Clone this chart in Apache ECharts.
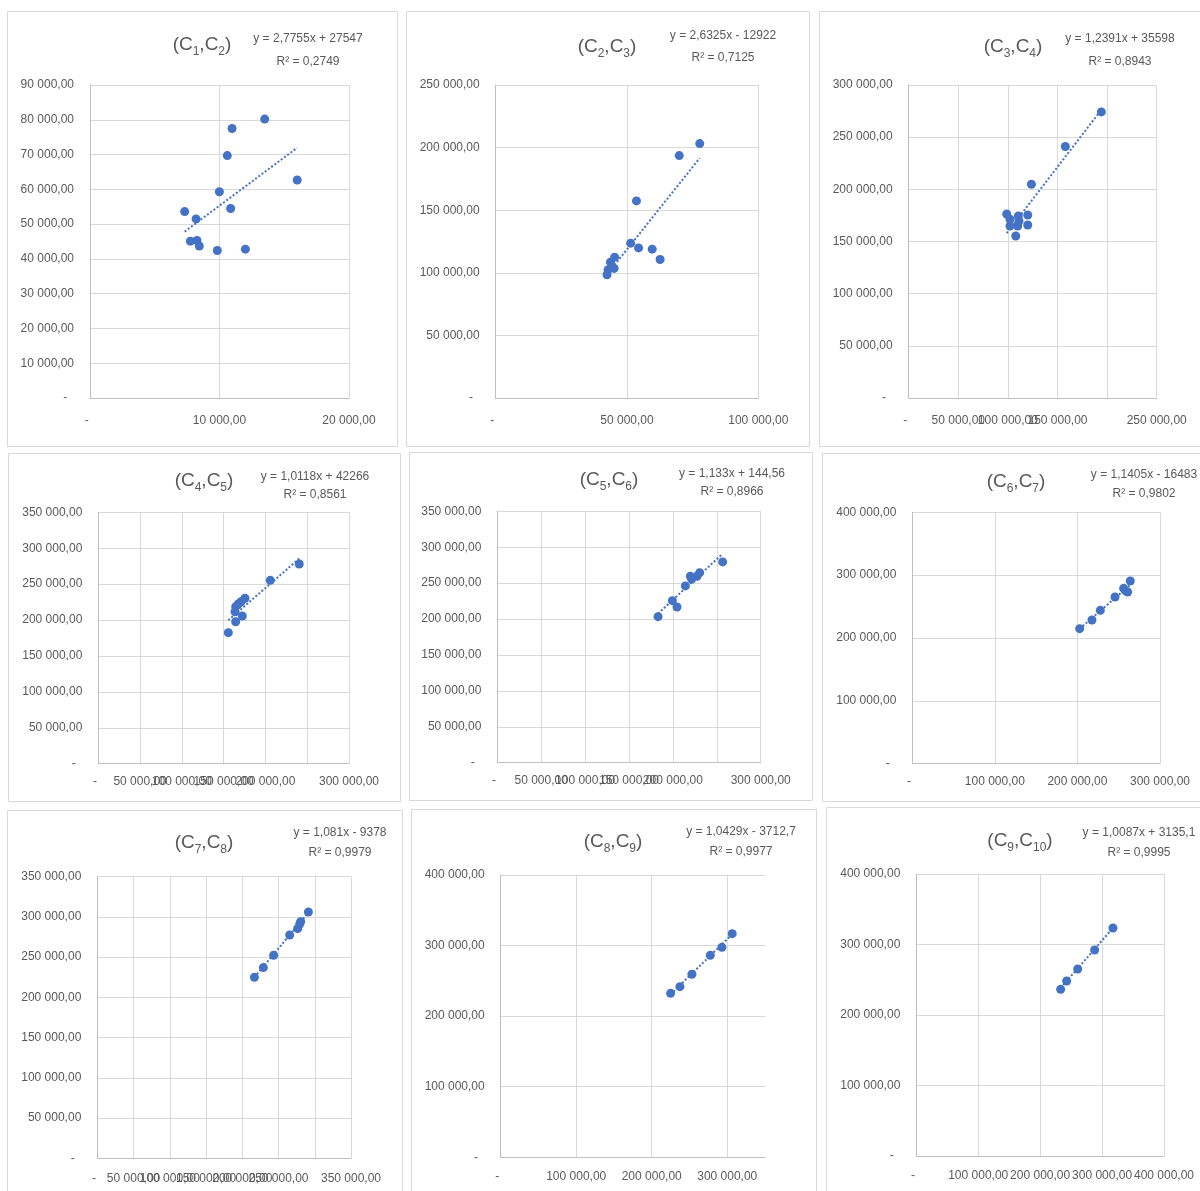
<!DOCTYPE html>
<html>
<head>
<meta charset="utf-8">
<script src="https://cdn.jsdelivr.net/npm/echarts@6/dist/echarts.min.js"></script>
<style>
  html, body { margin: 0; padding: 0; background: #ffffff; }
  #chart { width: 1200px; height: 1191px; }
</style>
</head>
<body>
<div id="chart"></div>
<script>
// Successive column pairs (C_i, C_i+1): x = C_i, y = C_i+1
const c1c2X = [7310, 8190, 7750, 8260, 8440, 9830, 12000, 9990, 10860, 10600, 10970, 13490, 16000];
const c1c2Y = [53600, 51500, 45100, 45300, 43700, 42400, 42800, 59300, 54500, 69700, 77500, 80200, 62700];

const c2c3X = [77700, 69900, 53600, 51400, 54400, 59600, 62600, 42400, 42800, 43700, 45300, 45100];
const c2c3Y = [203200, 193600, 157400, 123700, 119900, 118900, 110600, 98400, 102400, 108500, 112500, 103500];

const c3c4X = [194200, 157900, 123700, 98800, 102100, 102100, 110500, 109900, 107900, 120000, 120000, 111200];
const c3c4Y = [274200, 241000, 204900, 176400, 171300, 164900, 174400, 164900, 155300, 175400, 165800, 169700];

const c4c5X = [240500, 205800, 175500, 170800, 167500, 164400, 163600, 172300, 164400, 155600];
const c4c5Y = [278100, 255300, 230300, 225500, 222300, 218600, 211600, 205600, 197700, 182400];

const c5c6X = [183100, 199400, 204700, 214200, 219900, 221400, 227500, 230500, 256700];
const c5c6Y = [203300, 225600, 216800, 246100, 259500, 255800, 259500, 264600, 279500];

const c6c7X = [202700, 217600, 227700, 245500, 256000, 258000, 260800, 264000];
const c6c7Y = [214900, 228600, 244000, 265300, 279000, 275300, 273200, 290700];

const c7c8X = [216700, 229100, 243300, 265400, 276400, 279200, 280600, 291200];
const c7c8Y = [224900, 237000, 252300, 277500, 285400, 291200, 294100, 306100];

const c8c9X = [225000, 237300, 253200, 277500, 292900, 306600];
const c8c9Y = [232300, 241800, 259300, 286200, 297500, 316900];

const c9c10X = [233100, 242800, 260600, 288000, 317600];
const c9c10Y = [236400, 248200, 265200, 292200, 323400];

// Column indices of each pair
const pairIndex = [[1, 2], [2, 3], [3, 4], [4, 5], [5, 6], [6, 7], [7, 8], [8, 9], [9, 10]];

// Linear trend lines: y = slope * x + intercept
const slopes = [2.7755, 2.6325, 1.2391, 1.0118, 1.133, 1.1405, 1.081, 1.0429, 1.0087];
const intercepts = [27547, -12922, 35598, 42266, 144.56, -16483, -9378, -3712.7, 3135.1];
const equationLabels = [
  'y = 2,7755x + 27547', 'y = 2,6325x - 12922', 'y = 1,2391x + 35598',
  'y = 1,0118x + 42266', 'y = 1,133x + 144,56', 'y = 1,1405x - 16483',
  'y = 1,081x - 9378', 'y = 1,0429x - 3712,7', 'y = 1,0087x + 3135,1'
];
const r2Labels = [
  'R² = 0,2749', 'R² = 0,7125', 'R² = 0,8943',
  'R² = 0,8561', 'R² = 0,8966', 'R² = 0,9802',
  'R² = 0,9979', 'R² = 0,9977', 'R² = 0,9995'
];

// Axis ranges and tick steps
const xMax  = [20000, 100000, 250000, 300000, 300000, 300000, 350000, 350000, 400000];
const xStep = [10000, 50000, 50000, 50000, 50000, 100000, 50000, 100000, 100000];
const yMax  = [90000, 250000, 300000, 350000, 350000, 400000, 350000, 400000, 400000];
const yStep = [10000, 50000, 50000, 50000, 50000, 100000, 50000, 100000, 100000];

const xs = [c1c2X, c2c3X, c3c4X, c4c5X, c5c6X, c6c7X, c7c8X, c8c9X, c9c10X];
const ys = [c1c2Y, c2c3Y, c3c4Y, c4c5Y, c5c6Y, c6c7Y, c7c8Y, c8c9Y, c9c10Y];

// Panel layout: frame box, plot area, title / equation anchors (centres)
const layout = [
  { box: [7.5, 11.5, 390, 435],   grid: [90, 85, 259, 313],           title: [202, 45],  eq: [308, 39],  r2: [308, 62],  xMargin: 17 },
  { box: [406.5, 11.5, 403, 435], grid: [495.7, 85, 262.6, 313],      title: [607, 47],  eq: [723, 36],  r2: [723, 58],  xMargin: 17 },
  { box: [819.5, 11.5, 400, 435], grid: [908.7, 85, 248, 313],        title: [1013, 47], eq: [1120, 39], r2: [1120, 62], xMargin: 17 },
  { box: [8.5, 453.5, 392, 348],  grid: [98.3, 512.3, 250.7, 251.4],  title: [204, 481], eq: [315, 477], r2: [315, 495], xMargin: 12 },
  { box: [409.5, 452.5, 403, 348], grid: [497.3, 511.3, 263.4, 251.4], title: [609, 480], eq: [732, 474], r2: [732, 492], xMargin: 12 },
  { box: [822.5, 453.5, 400, 348], grid: [912.3, 512.3, 247.7, 251.4], title: [1016, 482], eq: [1144, 475], r2: [1144, 494], xMargin: 12 },
  { box: [7.5, 810.5, 395, 400],  grid: [97.3, 876.7, 253.7, 281.6],  title: [204, 843], eq: [340, 833], r2: [340, 853], xMargin: 14 },
  { box: [411.5, 809.5, 405, 400], grid: [500.7, 875, 264.3, 282.3],  title: [613, 842], eq: [741, 832], r2: [741, 852], xMargin: 13 },
  { box: [826.5, 807.5, 400, 400], grid: [916.3, 874, 247.7, 282],    title: [1020, 841], eq: [1139, 833], r2: [1139, 853], xMargin: 14 }
];

const FONT = "'Liberation Sans', Arial, sans-serif";
const TEXT = '#595959';
const BLUE = '#4472C4';
const TICK_SIZE = 12;

function fmtNumber(v) {
  const parts = Math.abs(v).toFixed(2).split('.');
  return parts[0].replace(/\B(?=(\d{3})+(?!\d))/g, ' ') + ',' + parts[1];
}
function fmtY(v) { return v === 0 ? '-  ' : fmtNumber(v); }
// x labels sit in a narrow rich box so neighbouring labels may run into each other
function fmtX(v) { return '{v|' + (v === 0 ? '-  ' : fmtNumber(v)) + '}'; }

const grids = [], xAxes = [], yAxes = [], series = [], graphics = [];

layout.forEach((L, i) => {
  grids.push({
    left: L.grid[0], top: L.grid[1], width: L.grid[2], height: L.grid[3],
    containLabel: false, outerBoundsMode: 'none'
  });

  const axisCommon = {
    type: 'value', gridIndex: i, min: 0,
    axisTick: { show: false },
    axisLine: { show: true, lineStyle: { color: '#bfbfbf', width: 1 } },
    splitLine: { show: true, lineStyle: { color: '#d9d9d9', width: 1 } }
  };

  const xMaxOnGrid = xMax[i] % xStep[i] === 0;
  xAxes.push(Object.assign({}, axisCommon, {
    max: xMax[i], interval: xStep[i],
    splitLine: { show: true, showMaxLine: xMaxOnGrid, lineStyle: { color: '#d9d9d9', width: 1 } },
    axisLabel: {
      formatter: fmtX, margin: L.xMargin, hideOverlap: false,
      showMaxLabel: xMaxOnGrid, showMinLabel: true,
      rich: {
        v: { width: 4, align: 'center', color: TEXT, fontFamily: FONT, fontSize: TICK_SIZE }
      }
    }
  }));
  yAxes.push(Object.assign({}, axisCommon, {
    max: yMax[i], interval: yStep[i],
    axisLabel: {
      formatter: fmtY, color: TEXT, fontFamily: FONT, fontSize: TICK_SIZE,
      margin: 16, hideOverlap: false
    }
  }));

  const pts = xs[i].map((x, k) => [x, ys[i][k]]);
  const lo = Math.min.apply(null, xs[i]);
  const hi = Math.max.apply(null, xs[i]);

  series.push({
    type: 'line', xAxisIndex: i, yAxisIndex: i,
    data: [[lo, slopes[i] * lo + intercepts[i]], [hi, slopes[i] * hi + intercepts[i]]],
    showSymbol: false, silent: true, z: 2,
    lineStyle: { color: BLUE, width: 2, type: [2, 2] }
  });
  series.push({
    type: 'scatter', xAxisIndex: i, yAxisIndex: i, data: pts,
    symbol: 'circle', symbolSize: 9, z: 3,
    itemStyle: { color: BLUE, opacity: 1 }
  });

  // chart frame
  graphics.push({
    type: 'rect', silent: true, z: -10,
    shape: { x: L.box[0], y: L.box[1], width: L.box[2], height: L.box[3] },
    style: { fill: '#ffffff', stroke: '#d9d9d9', lineWidth: 1 }
  });

  // title (C_i, C_j) with subscripts
  const a = pairIndex[i][0], b = pairIndex[i][1];
  graphics.push({
    type: 'text', silent: true, z: 10,
    x: L.title[0], y: L.title[1],
    style: {
      text: '{p|(C}{s|' + a + '}{p|,C}{s|' + b + '}{p|)}',
      align: 'center', verticalAlign: 'middle',
      rich: {
        p: { fill: TEXT, fontFamily: FONT, fontSize: 19, lineHeight: 26 },
        s: { fill: TEXT, fontFamily: FONT, fontSize: 12, lineHeight: 16, verticalAlign: 'bottom' }
      }
    }
  });

  // trend equation and R²
  graphics.push({
    type: 'text', silent: true, z: 10, x: L.eq[0], y: L.eq[1],
    style: { text: equationLabels[i], align: 'center', verticalAlign: 'middle',
             fill: TEXT, fontFamily: FONT, fontSize: 12 }
  });
  graphics.push({
    type: 'text', silent: true, z: 10, x: L.r2[0], y: L.r2[1],
    style: { text: r2Labels[i], align: 'center', verticalAlign: 'middle',
             fill: TEXT, fontFamily: FONT, fontSize: 12 }
  });
});

const chart = echarts.init(document.getElementById('chart'), null, { renderer: 'canvas' });
chart.setOption({
  backgroundColor: '#ffffff',
  animation: false,
  grid: grids,
  xAxis: xAxes,
  yAxis: yAxes,
  series: series,
  graphic: { elements: graphics }
});
</script>
</body>
</html>
